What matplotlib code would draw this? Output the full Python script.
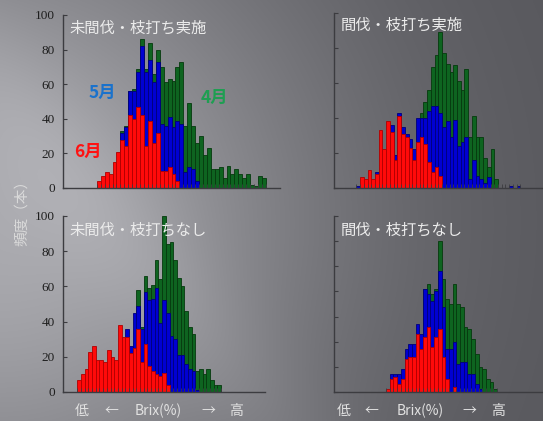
import matplotlib
matplotlib.use("Agg")
import matplotlib.pyplot as plt
import numpy as np

# counts per Brix bin (4月 green, 5月 blue, 6月 red)
tl_red = [4, 7, 9, 8, 15, 21, 28, 24, 42, 40, 47, 42, 24, 39, 26, 32, 10, 10, 12, 8, 4]
tl_blue = [0, 0, 0, 0, 0, 0, 32, 35, 56, 56, 67, 82, 67, 74, 61, 73, 37, 36, 41, 35,
           39, 37, 9, 12, 11, 4]
tl_green = [0, 0, 0, 0, 0, 0, 33, 36, 56, 57, 69, 86, 69, 84, 66, 80, 70, 61, 63, 62,
            70, 73, 36, 49, 36, 26, 30, 19, 23, 11, 11, 12, 6, 13, 8, 11, 8, 6, 8, 2,
            1, 7, 6]

bl_red = [7, 10, 13, 23, 26, 18, 18, 17, 24, 20, 18, 38, 31, 31, 22, 25, 36, 17, 27, 15,
          12, 10, 9, 11, 4]
bl_blue = [0] * 13 + [36, 26, 45, 49, 36, 57, 52, 53, 59, 39, 52, 45, 32, 30, 21, 21,
                      16, 13, 12, 1]
bl_green = [0] * 16 + [58, 37, 66, 59, 61, 75, 64, 100, 84, 85, 75, 65, 60, 46, 37, 33,
                       12, 13, 10, 13, 7, 4, 4]

tr_red = [0, 6, 5, 10, 5, 8, 33, 22, 38, 32, 16, 41, 31, 29, 23, 16, 26, 29, 25, 15,
          9, 12, 7]
tr_blue = [1, 0, 0, 0, 0, 9, 0, 0, 0, 36, 19, 43, 35, 31, 28, 22, 40, 40, 40, 44,
           47, 47, 43, 35, 38, 29, 39, 24, 26, 29, 5, 16, 7, 5, 3, 6, 0, 0, 0, 0,
           0, 1, 0, 1]
tr_green = [0] * 17 + [43, 49, 56, 69, 76, 89, 77, 71, 66, 70, 61, 56, 68, 29, 41, 29,
                       29, 17, 12, 22, 5]

br_red = [1, 5, 6, 3, 5, 13, 14, 14, 23, 17, 22, 26, 18, 22, 25, 14, 5, 0, 2]
br_blue = [0, 7, 7, 7, 9, 17, 19, 19, 27, 23, 41, 39, 36, 40, 48, 34, 17, 17, 20, 11,
           12, 12, 7, 7, 3, 1]
br_green = [0] * 10 + [41, 43, 39, 41, 60, 45, 37, 35, 43, 35, 34, 26, 25, 21, 15, 10,
                       9, 5, 4, 1]

titles = ["未間伐・枝打ち実施", "間伐・枝打ち実施", "未間伐・枝打ちなし", "間伐・枝打ちなし"]
xlabel_parts = ["低", "←", "Brix(%)", "→", "高"]

W, H = 543, 421
fig = plt.figure(figsize=(W / 100, H / 100), dpi=100)

# background: grey slide with a soft light from the left
yy, xx = np.mgrid[0:H, 0:W]
dist = np.hypot(xx, yy - 220)
v = 86 + 84 * np.exp(-(dist / 330) ** 2)
d = (xx * 0.77 - yy * 0.64 + 60) / 60.0
v = v + 10 * np.exp(-d ** 2)
img = np.dstack([v, v, v + 5]) / 255.0
bg = fig.add_axes([0, 0, 1, 1], zorder=-10)
bg.imshow(np.clip(img, 0, 1), extent=[0, 1, 0, 1], aspect="auto")
bg.axis("off")

cjk = ["Noto Sans CJK JP", "DejaVu Sans"]
spine_col = "#3c3c40"


def px(x, y):
    return x / W, 1 - y / H


def make_ax(left, right, bottom, top):
    return fig.add_axes([left / W, 1 - bottom / H, (right - left) / W, (bottom - top) / H])


def draw(ax, red, blue, green, xlim, ymax, ystep, labels):
    for vals, fc, ec in [(green, "#0e6420", "#063a0e"),
                         (blue, "#0000d2", "#00007a"),
                         (red, "#ff0a0a", "#b00000")]:
        x = np.arange(len(vals))
        ax.bar(x, vals, width=1, align="edge", color=fc, edgecolor=ec, linewidth=0.6)
    ax.set_facecolor("none")
    ax.set_xlim(*xlim)
    ax.set_ylim(0, ymax)
    for s in ["top", "right"]:
        ax.spines[s].set_visible(False)
    for s in ["left", "bottom"]:
        ax.spines[s].set_color(spine_col)
        ax.spines[s].set_linewidth(1.0)
    n = max(len(red), len(blue), len(green))
    ax.set_xticks(np.arange(0, n + 1))
    ax.tick_params(axis="x", direction="in", length=3, width=0.6, color=spine_col,
                   labelbottom=False)
    ax.set_yticks(np.arange(0, ymax + 1, ystep))
    ax.tick_params(axis="y", direction="in", length=3, width=0.8, color=spine_col,
                   labelleft=labels, labelsize=9.5, labelcolor="#1e1e1e", pad=6)
    for t in ax.get_yticklabels():
        t.set_family("Liberation Serif")


ax_tl = make_ax(63, 280, 188, 15)
draw(ax_tl, tl_red, tl_blue, tl_green, (-8.6, 46.6), 100, 20, True)
ax_bl = make_ax(63, 265, 392, 216)
draw(ax_bl, bl_red, bl_blue, bl_green, (-3.9, 50.9), 100, 20, True)
ax_tr = make_ax(334, 542, 188, 13)
draw(ax_tr, tr_red, tr_blue, tr_green, (-6.0, 49.8), 100, 20, False)
ax_br = make_ax(334, 543, 392, 216)
draw(ax_br, br_red, br_blue, br_green, (-14.05, 42.4), 70, 10, False)

# panel titles
for (x, y), t in zip([(69, 28), (341, 25), (69, 230), (341, 230)], titles):
    fig.text(*px(x, y), t, family=cjk, fontsize=11, color="#ececec",
             ha="left", va="center")

# month labels in the first panel
fig.text(*px(102, 93), "5月", family=cjk, fontsize=12.5, weight="bold",
         color="#1a72cc", ha="center", va="center")
fig.text(*px(214, 98), "4月", family=cjk, fontsize=12.5, weight="bold",
         color="#1f9e52", ha="center", va="center")
fig.text(*px(88, 152), "6月", family=cjk, fontsize=12.5, weight="bold",
         color="#ff1212", ha="center", va="center")

# y label
fig.text(*px(22, 209), "頻度（本）", family=cjk, fontsize=10.5, color="#dadada",
         rotation=90, ha="center", va="center")

# x labels under each column
for xs in [(81.5, 111.5, 158, 208.5, 236.5), (343.5, 371.5, 420, 469.5, 498.5)]:
    for x, t in zip(xs, xlabel_parts):
        fig.text(*px(x, 411), t, family=cjk, fontsize=10, color="#e2e2e2",
                 ha="center", va="center")

fig.savefig("out.png", dpi=100)
